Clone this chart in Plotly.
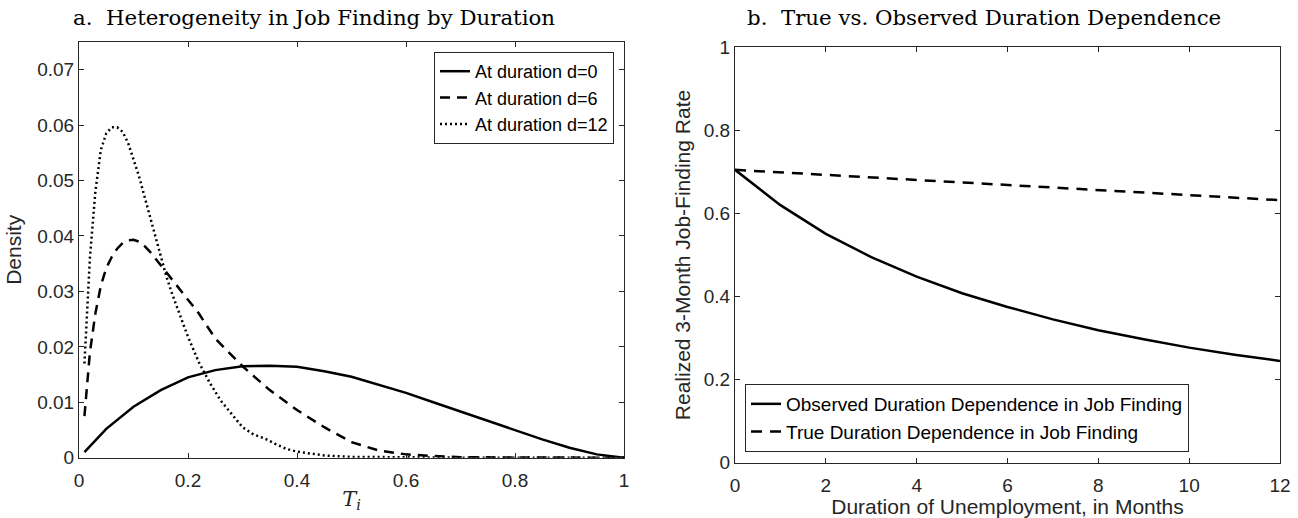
import plotly.graph_objects as go

# panel a: density of T_i at three durations
t_d0 = [0.01, 0.05, 0.10, 0.15, 0.20, 0.25, 0.30, 0.35, 0.40, 0.45, 0.50,
        0.55, 0.60, 0.65, 0.70, 0.75, 0.80, 0.85, 0.90, 0.95, 1.00]
dens_d0 = [0.0010, 0.0052, 0.0092, 0.0122, 0.0145, 0.0158, 0.0165, 0.0166, 0.0164,
           0.0156, 0.0146, 0.0132, 0.0117, 0.0100, 0.0083, 0.0066, 0.0050, 0.0033,
           0.0018, 0.0006, 0.0]

t_d6 = [0.01, 0.02, 0.03, 0.04, 0.05, 0.06, 0.07, 0.08, 0.09, 0.10, 0.11, 0.12,
        0.13, 0.14, 0.15, 0.16, 0.18, 0.20, 0.22, 0.25, 0.30, 0.35, 0.40, 0.45,
        0.50, 0.55, 0.60, 0.65, 0.70, 0.80, 0.90, 1.00]
dens_d6 = [0.0075, 0.0190, 0.0260, 0.0310, 0.0342, 0.0362, 0.0377, 0.0387, 0.0392,
           0.0393, 0.0390, 0.0382, 0.0372, 0.0360, 0.0348, 0.0336, 0.0310, 0.0285,
           0.0260, 0.0215, 0.0165, 0.0122, 0.0086, 0.0055, 0.0028, 0.0013, 0.0006,
           0.0003, 0.0001, 0.00003, 0.00001, 0.0]

t_d12 = [0.01, 0.02, 0.03, 0.04, 0.05, 0.06, 0.07, 0.08, 0.09, 0.10, 0.11, 0.12,
         0.13, 0.14, 0.15, 0.16, 0.17, 0.18, 0.19, 0.20, 0.22, 0.24, 0.26, 0.28,
         0.30, 0.32, 0.34, 0.36, 0.38, 0.40, 0.45, 0.50, 0.60, 0.70, 1.00]
dens_d12 = [0.0170, 0.0360, 0.0480, 0.0555, 0.0585, 0.0596, 0.0596, 0.0588, 0.0568,
            0.0540, 0.0508, 0.0472, 0.0435, 0.0400, 0.0362, 0.0328, 0.0298, 0.0270,
            0.0243, 0.0218, 0.0172, 0.0135, 0.0103, 0.0078, 0.0055, 0.0042, 0.0035,
            0.0025, 0.0016, 0.0011, 0.0004, 0.00015, 0.00002, 0.0, 0.0]

# panel b: realized 3-month job-finding rate by duration
months = [0, 1, 2, 3, 4, 5, 6, 7, 8, 9, 10, 11, 12]
observed = [0.705, 0.620, 0.551, 0.495, 0.448, 0.408, 0.375, 0.345, 0.319,
            0.297, 0.277, 0.260, 0.245]
true_dd = [0.705, 0.699, 0.693, 0.687, 0.680, 0.674, 0.668, 0.662, 0.656,
           0.650, 0.644, 0.638, 0.632]

ax_a_x = [0, 0.2, 0.4, 0.6, 0.8, 1]
ax_a_xlab = ["0", "0.2", "0.4", "0.6", "0.8", "1"]
ax_a_y = [0, 0.01, 0.02, 0.03, 0.04, 0.05, 0.06, 0.07]
ax_a_ylab = ["0", "0.01", "0.02", "0.03", "0.04", "0.05", "0.06", "0.07"]
ax_b_x = [0, 2, 4, 6, 8, 10, 12]
ax_b_xlab = ["0", "2", "4", "6", "8", "10", "12"]
ax_b_y = [0, 0.2, 0.4, 0.6, 0.8, 1]
ax_b_ylab = ["0", "0.2", "0.4", "0.6", "0.8", "1"]

W, H = 1298, 518
sans = "Liberation Sans, Arial, sans-serif"
serif = "DejaVu Serif, serif"
axcol = "#262626"
lw = 2.5

fig = go.Figure()

fig.add_trace(go.Scatter(x=t_d0, y=dens_d0, mode="lines", name="At duration d=0",
                         line=dict(color="black", width=lw), legend="legend",
                         xaxis="x", yaxis="y"))
fig.add_trace(go.Scatter(x=t_d6, y=dens_d6, mode="lines", name="At duration d=6",
                         line=dict(color="black", width=lw, dash="10px,7px"),
                         legend="legend", xaxis="x", yaxis="y"))
fig.add_trace(go.Scatter(x=t_d12, y=dens_d12, mode="lines", name="At duration d=12",
                         line=dict(color="black", width=lw, dash="2px,3px"),
                         legend="legend", xaxis="x", yaxis="y"))

fig.add_trace(go.Scatter(x=months, y=observed, mode="lines",
                         name="Observed Duration Dependence in Job Finding",
                         line=dict(color="black", width=lw), legend="legend2",
                         xaxis="x2", yaxis="y2"))
fig.add_trace(go.Scatter(x=months, y=true_dd, mode="lines",
                         name="True Duration Dependence in Job Finding",
                         line=dict(color="black", width=lw, dash="11px,8px"),
                         legend="legend2", xaxis="x2", yaxis="y2"))

common = dict(showline=True, linecolor=axcol, linewidth=1, mirror="allticks",
              ticks="inside", ticklen=5, tickcolor=axcol, showgrid=False,
              zeroline=False, automargin=False,
              tickfont=dict(family=sans, size=19, color=axcol))
title_font = dict(family=sans, size=21, color=axcol)

fig.update_layout(
    width=W, height=H,
    margin=dict(l=0, r=0, t=0, b=0),
    paper_bgcolor="white", plot_bgcolor="white",
    xaxis=dict(domain=[79 / W, 624 / W], range=[0, 1], tickvals=ax_a_x,
               ticktext=ax_a_xlab, anchor="y", ticklabelstandoff=5,
               title=dict(text="<i>T<sub>i</sub></i>", standoff=1,
                          font=dict(family=serif, size=21, color=axcol)),
               **common),
    yaxis=dict(domain=[1 - 457.7 / H, 1 - 42 / H], range=[0, 0.075],
               tickvals=ax_a_y, ticktext=ax_a_ylab, anchor="x",
               title=dict(text="Density", standoff=9, font=title_font),
               **common),
    xaxis2=dict(domain=[735 / W, 1280 / W], range=[0, 12], tickvals=ax_b_x,
                ticktext=ax_b_xlab, anchor="y2", ticklabelstandoff=5,
                title=dict(text="Duration of Unemployment, in Months", standoff=4,
                           font=title_font),
                **common),
    yaxis2=dict(domain=[1 - 462.7 / H, 1 - 47.3 / H], range=[0, 1],
                tickvals=ax_b_y, ticktext=ax_b_ylab, anchor="x2",
                title=dict(text="Realized 3-Month Job-Finding Rate", standoff=7,
                           font=title_font),
                **common),
    legend=dict(x=614 / W, y=1 - 52 / H, xanchor="right", yanchor="top",
                bgcolor="white", bordercolor=axcol, borderwidth=1,
                font=dict(family=sans, size=18, color="black"),
                tracegroupgap=0, itemwidth=30),
    legend2=dict(x=745 / W, y=1 - 452 / H, xanchor="left", yanchor="bottom",
                 bgcolor="white", bordercolor=axcol, borderwidth=1,
                 font=dict(family=sans, size=19, color="black"),
                 tracegroupgap=0, itemwidth=30),
    annotations=[
        dict(text="a.  Heterogeneity in Job Finding by Duration", x=314 / W,
             y=1 - 17 / H, xref="paper", yref="paper", showarrow=False,
             xanchor="center", yanchor="middle",
             font=dict(family=serif, size=21.3, color="black")),
        dict(text="b.  True vs. Observed Duration Dependence", x=984 / W,
             y=1 - 17 / H, xref="paper", yref="paper", showarrow=False,
             xanchor="center", yanchor="middle",
             font=dict(family=serif, size=21.3, color="black")),
    ],
)

# the page body's default margin would shift the figure by 8px
fig.write_html("out.html", config={"displayModeBar": False},
               post_script="document.body.style.margin='0';")
